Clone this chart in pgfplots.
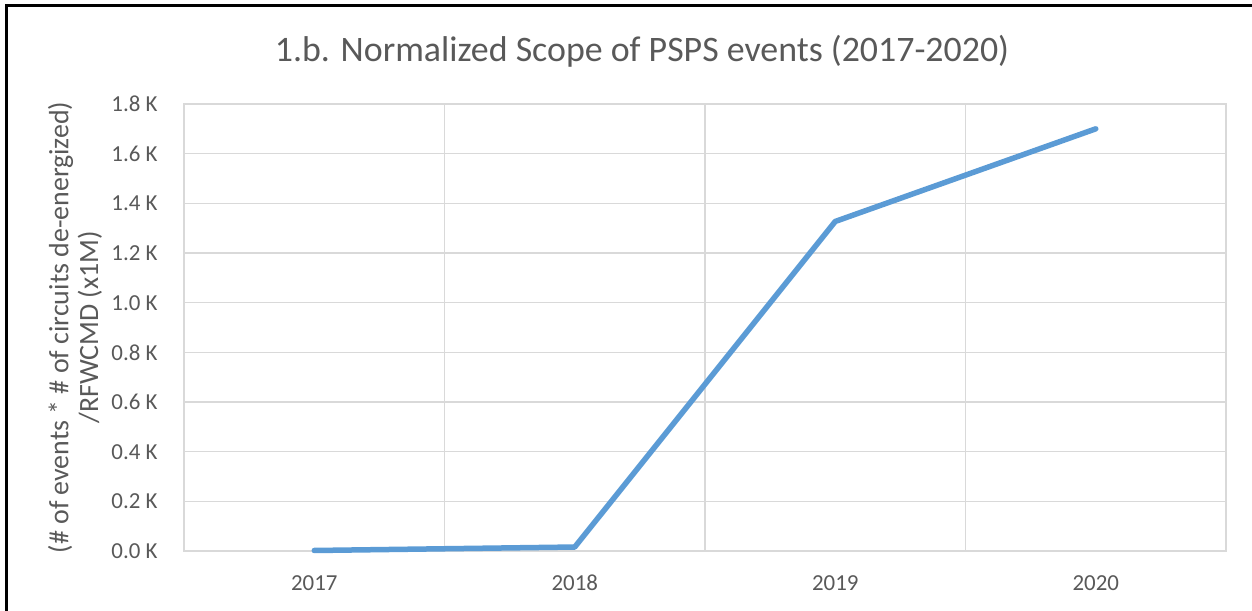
\documentclass[border=0pt]{standalone}
\usepackage{fontspec}
\setmainfont{Carlito}
\usepackage{pgfplots}
\pgfplotsset{compat=1.18}
\definecolor{lineblue}{HTML}{5B9BD5}
\definecolor{gridgray}{HTML}{D9D9D9}
\definecolor{txtgray}{HTML}{595959}
\begin{document}
\begin{tikzpicture}[x=1bp,y=1bp]
\useasboundingbox (0,0) rectangle (1252,611);
\draw[line width=3bp] (6.5,-2) -- (6.5,605) -- (1254,605);
\node[text=txtgray, font=\fontsize{36}{40}\selectfont] at (642,560) {1.b. Normalized Scope of PSPS events (2017-2020)};
\begin{axis}[
  at={(184bp,60bp)}, anchor=south west,
  scale only axis, width=1042bp, height=447bp,
  xmin=-0.5, xmax=3.5, ymin=0, ymax=1800,
  xtick={0,1,2,3}, xticklabels={2017,2018,2019,2020},
  minor xtick={-0.5,0.5,1.5,2.5,3.5},
  xminorgrids=true, xmajorgrids=false, ymajorgrids=true,
  ytick={0,200,...,1800},
  yticklabels={0.0 K,0.2 K,0.4 K,0.6 K,0.8 K,1.0 K,1.2 K,1.4 K,1.6 K,1.8 K},
  major tick length=0, minor tick length=0,
  axis line style={draw=gridgray, line width=1.5bp},
  grid style={draw=gridgray, line width=1.5bp},
  minor grid style={draw=gridgray, line width=1.5bp},
  ticklabel style={text=txtgray, font=\fontsize{23}{26}\selectfont},
  xticklabel style={anchor=base, yshift=-40bp},
  yticklabel style={xshift=-23bp},
  ylabel={(\# of events * \# of circuits de-energized)\\/RFWCMD (x1M)},
  ylabel style={align=center, text=txtgray, font=\fontsize{28}{30}\selectfont, at={(rel axis cs:0,0.5)}, anchor=center, yshift=109bp},
  clip=false,
]
\addplot[lineblue, line width=5.5bp, line cap=round, line join=round] coordinates {(0,2) (1,16) (2,1327) (3,1700)};
\end{axis}
\end{tikzpicture}
\end{document}
